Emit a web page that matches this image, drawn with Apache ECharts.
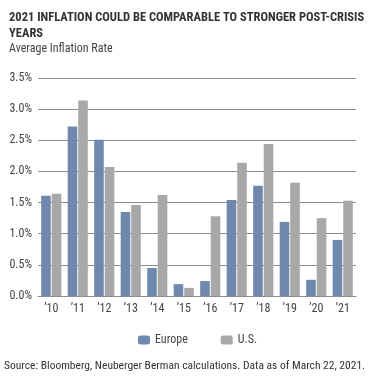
<!DOCTYPE html>
<html><head><meta charset="utf-8">
<script src="https://cdn.jsdelivr.net/npm/echarts@6/dist/echarts.min.js"></script>
<style>html,body{margin:0;padding:0;background:#fff}#c{width:375px;height:377px}</style>
</head><body><div id="c"></div>
<script>
var categories = ["\u201910","\u201911","\u201912","\u201913","\u201914","\u201915","\u201916","\u201917","\u201918","\u201919","\u201920","\u201921"];
var europe = [1.61, 2.72, 2.51, 1.35, 0.45, 0.19, 0.24, 1.54, 1.77, 1.19, 0.26, 0.90];
var us = [1.64, 3.14, 2.07, 1.46, 1.62, 0.13, 1.28, 2.14, 2.44, 1.82, 1.25, 1.53];
var yTicks = [0, 0.5, 1.0, 1.5, 2.0, 2.5, 3.0, 3.5];

var F = "'Liberation Sans Narrow','Roboto Condensed','Liberation Sans',sans-serif";
var chart = echarts.init(document.getElementById('c'), null, {renderer:'canvas'});
chart.setOption({
  animation:false,
  textStyle:{fontFamily:F},
  title:[
    {text:"2021 INFLATION COULD BE COMPARABLE TO STRONGER POST-CRISIS\nYEARS", left:4, top:5,
     textStyle:{fontFamily:F, fontSize:12.5, fontWeight:'bold', color:'#333', lineHeight:16}},
    {text:"Average Inflation Rate", left:4, top:38,
     textStyle:{fontFamily:F, fontSize:12, fontWeight:'normal', color:'#444'}}
  ],
  legend:{left:133, top:329, itemWidth:12, itemHeight:9, itemGap:33,
    textStyle:{fontFamily:F, fontSize:12, color:'#444'},
    data:['Europe','U.S.']},
  grid:{left:38, right:19, top:78, bottom:81},
  xAxis:{type:'category', data:categories,
    axisLine:{show:true, lineStyle:{color:'#8c8c8c'}},
    axisTick:{show:false},
    axisLabel:{fontFamily:F, fontSize:12, color:'#444', margin:7}},
  yAxis:{type:'value', min:0, max:3.5, interval:0.5,
    axisLine:{show:false}, axisTick:{show:false},
    splitLine:{lineStyle:{color:'#8c8c8c'}},
    axisLabel:{fontFamily:F, fontSize:12, color:'#444', margin:6,
      formatter:function(v){return v.toFixed(1)+'%';}}},
  series:[
    {name:'Europe', type:'bar', data:europe, barGap:'10%', barCategoryGap:'24%',
     itemStyle:{color:'#6f89ae'}},
    {name:'U.S.', type:'bar', data:us, itemStyle:{color:'#a8a8a8'}}
  ],
  graphic:[{type:'text', left:4, top:360,
    style:{text:"Source: Bloomberg, Neuberger Berman calculations. Data as of March 22, 2021.",
      fontFamily:F, fontSize:11.5, fill:'#333'}}]
});
</script></body></html>
